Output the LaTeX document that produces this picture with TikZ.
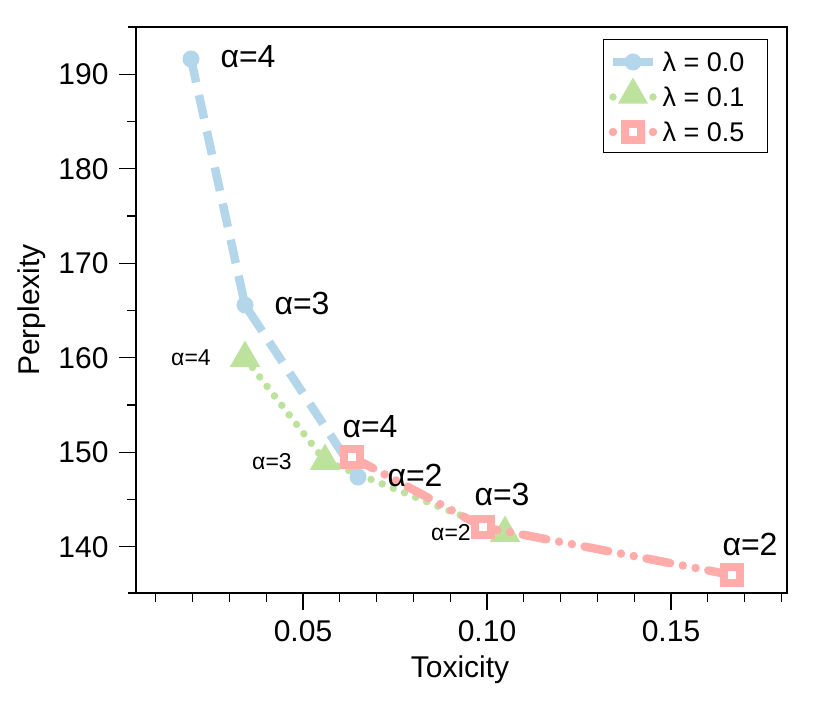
\documentclass[tikz,border=0pt]{standalone}
\usepackage{fontspec}
\setmainfont{Liberation Sans}
\usetikzlibrary{shapes.geometric}
\definecolor{cb}{HTML}{B3D6EA}
\definecolor{cg}{HTML}{BCE29E}
\definecolor{cr}{HTML}{FFACAA}
\tikzset{
 bl/.style={cb,line width=8.5pt,dash pattern=on 24pt off 13pt},
 gl/.style={cg,line width=7.5pt,line cap=round,dash pattern=on 0pt off 12pt},
 rl/.style={cr,line width=8.5pt,line cap=round,dash pattern=on 24pt off 13pt on 0pt off 13pt on 0pt off 13pt},
 bm/.style={circle,fill=cb,inner sep=0pt,minimum size=17pt},
 gm/.style={regular polygon,regular polygon sides=3,fill=cg,inner sep=0pt,minimum size=35pt},
 rm/.style={rectangle,draw=cr,line width=8.5pt,fill=white,inner sep=0pt,minimum size=16pt},
 big/.style={font=\fontsize{32}{32}\selectfont},
 sml/.style={font=\fontsize{23}{23}\selectfont},
 tl/.style={font=\fontsize{30}{30}\selectfont},
 ax/.style={black,line width=1.2pt},
}
\begin{document}
\begin{tikzpicture}[x=1pt,y=-1pt]
\useasboundingbox (0,0) rectangle (830,703);
% frame and axes
\draw[ax] (136,27) rectangle (787,593);
\draw[ax] (128,27) -- (136,27);
\draw[ax] (128,593) -- (136,593);
\foreach \v/\t in {140/140,150/150,160/160,170/170,180/180,190/190}{
  \pgfmathsetmacro\yy{546.7-(\v-140)*9.45}
  \draw[ax] (119,\yy) -- (136,\yy);
  \node[tl,anchor=east] (yl\v) at (112,\yy) {\t};
}
\foreach \v in {145,155,165,175,185}{
  \pgfmathsetmacro\yy{546.7-(\v-140)*9.45}
  \draw[ax] (127,\yy) -- (136,\yy);
}
\foreach \i in {1,...,18}{
  \pgfmathsetmacro\xx{303+(\i-5)*36.8}
  \draw[ax] (\xx,593) -- (\xx,602);
}
\foreach \i/\t in {5/0.05,10/0.10,15/0.15}{
  \pgfmathsetmacro\xx{303+(\i-5)*36.8}
  \draw[ax] (\xx,593) -- (\xx,610);
  \node[tl,anchor=north] (xl\i) at (\xx,617) {\t};
}
\node[tl] (xt) at (460,670) {Toxicity};
\node[tl,rotate=90] (yt) at (32,310) {Perplexity};
% data coordinates
\coordinate (b4) at (191,59);
\coordinate (b3) at (245,305);
\coordinate (b2) at (358,477);
\coordinate (g4) at (245,358);
\coordinate (g3) at (325,461);
\coordinate (g2) at (505,533);
\coordinate (r4) at (352,457);
\coordinate (r3) at (483,527);
\coordinate (r2) at (732,575);
\draw[bl] (b4) -- (b3) -- (b2);
\draw[gl] (g4) -- (g3) -- (g2);
\node[bm] (B4) at (b4) {};
\node[bm] (B3) at (b3) {};
\node[bm] (B2) at (b2) {};
\node[gm] (G4) at (g4) {};
\node[gm] (G3) at (g3) {};
\node[gm] (G2) at (g2) {};
\draw[rl] (r4) -- (r3) -- (r2);
\node[rm] (R4) at (r4) {};
\node[rm] (R3) at (r3) {};
\node[rm] (R2) at (r2) {};
% labels
\node[big] (lb4) at (248,57) {α=4};
\node[big] (lb3) at (302,303) {α=3};
\node[big] (lb2) at (415,475) {α=2};
\node[sml] (lg4) at (191,358) {α=4};
\node[sml] (lg3) at (272,462) {α=3};
\node[sml] (lg2) at (451,533) {α=2};
\node[big] (lr4) at (370,427) {α=4};
\node[big] (lr3) at (502,494) {α=3};
\node[big] (lr2) at (750,544) {α=2};
% legend
\draw[black,line width=1pt] (603,40) rectangle (767,153);
\coordinate (la1) at (613,62); \coordinate (lb1) at (653,62);
\coordinate (la2) at (613,97); \coordinate (lb2x) at (653,97);
\coordinate (la3) at (613,132); \coordinate (lb3x) at (653,132);
\draw[cb,line width=8.5pt] (la1) -- (lb1);
\node[bm] (LB) at (633,62) {};
\draw[gl,dash pattern=on 0pt off 40pt] (la2) -- (lb2x);
\node[gm] (LG) at (633,95) {};
\draw[rl,dash pattern=on 0pt off 40pt] (la3) -- (lb3x);
\node[rm] (LR) at (633,132) {};
\node[font=\fontsize{27}{27}\selectfont,anchor=west] (t1) at (659,62) {λ = 0.0};
\node[font=\fontsize{27}{27}\selectfont,anchor=west] (t2) at (659,97) {λ = 0.1};
\node[font=\fontsize{27}{27}\selectfont,anchor=west] (t3) at (659,132) {λ = 0.5};
\end{tikzpicture}
\end{document}
